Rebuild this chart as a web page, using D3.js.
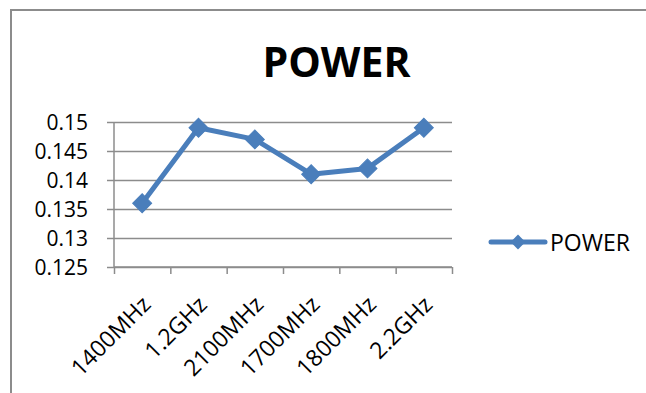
<!DOCTYPE html>
<html>
<head>
<meta charset="utf-8">
<script src="https://cdn.jsdelivr.net/npm/d3@7"></script>
<style>
  html, body { margin: 0; padding: 0; background: #fff; }
  svg { display: block; }
  text { font-family: "Open Sans", "DejaVu Sans", sans-serif; fill: #000; }
</style>
</head>
<body>
<svg id="chart" width="646" height="393"></svg>
<script>
// Series data
const categories = ["1400MHz", "1.2GHz", "2100MHz", "1700MHz", "1800MHz", "2.2GHz"];
const powerValues = [0.136, 0.149, 0.147, 0.141, 0.142, 0.149];
const yTicks = [0.125, 0.13, 0.135, 0.14, 0.145, 0.15];
const yTickLabels = ["0.125", "0.13", "0.135", "0.14", "0.145", "0.15"];
const seriesName = "POWER";
const chartTitle = "POWER";

const svg = d3.select("#chart");
const W = 646, H = 393;
const plot = { left: 114, right: 452, top: 122, bottom: 267 };
const lineColor = "#4a7ebb";
const gridColor = "#8c8c8c";

svg.append("rect").attr("width", W).attr("height", H).attr("fill", "#fff");

// Chart frame (only top and left edges fall inside the canvas)
svg.append("path")
  .attr("d", `M11,${H} V10 H${W}`)
  .attr("fill", "none")
  .attr("stroke", gridColor)
  .attr("stroke-width", 2);

// Title
svg.append("text")
  .attr("x", 336.5).attr("y", 77)
  .attr("text-anchor", "middle")
  .style("font-size", "41px")
  .style("font-weight", "bold")
  .text(chartTitle);

// Scales
const x = d3.scaleBand().domain(categories).range([plot.left, plot.right]).padding(0);
const xEdges = d3.scaleLinear().domain([0, categories.length]).range([plot.left, plot.right]);
const y = d3.scaleLinear().domain([yTicks[0], yTicks[yTicks.length - 1]]).range([plot.bottom, plot.top]);

// Horizontal gridlines
const grid = svg.append("g")
  .attr("transform", `translate(${plot.left},0)`)
  .call(d3.axisLeft(y).tickValues(yTicks).tickSize(-(plot.right - plot.left)).tickFormat(""));
grid.select(".domain").remove();
grid.selectAll(".tick line").attr("stroke", gridColor).attr("stroke-width", 1.5);

// Y axis with labels
const yAxis = svg.append("g")
  .attr("transform", `translate(${plot.left},0)`)
  .call(d3.axisLeft(y).tickValues(yTicks).tickSize(7).tickPadding(19)
    .tickFormat((d, i) => yTickLabels[i]));
yAxis.select(".domain").attr("stroke", gridColor).attr("stroke-width", 1.5)
  .attr("d", `M0,${plot.top}V${plot.bottom}`);
yAxis.selectAll(".tick line").attr("stroke", gridColor).attr("stroke-width", 1.5);
yAxis.selectAll(".tick text").style("font-size", "21px").attr("fill", "#000").attr("dy", "0.36em");

// X axis: tick marks between categories
const xAxis = svg.append("g")
  .attr("transform", `translate(0,${plot.bottom})`)
  .call(d3.axisBottom(xEdges).tickValues(d3.range(categories.length + 1)).tickSize(7).tickFormat(""));
xAxis.select(".domain").attr("stroke", gridColor).attr("stroke-width", 1.5)
  .attr("d", `M${plot.left},0H${plot.right}`);
xAxis.selectAll(".tick line").attr("stroke", gridColor).attr("stroke-width", 1.5);

// Rotated category labels
svg.append("g").selectAll("text")
  .data(categories)
  .join("text")
  .attr("transform", d => `translate(${x(d) + x.bandwidth() / 2 + 10},306) rotate(-45)`)
  .attr("text-anchor", "end")
  .style("font-size", "23px")
  .text(d => d);

// Series line
const pts = categories.map((c, i) => [x(c) + x.bandwidth() / 2, y(powerValues[i])]);
svg.append("path")
  .attr("d", d3.line()(pts))
  .attr("fill", "none")
  .attr("stroke", lineColor)
  .attr("stroke-width", 5)
  .attr("stroke-linejoin", "round");

// Diamond markers
const diamond = d3.symbol().type(d3.symbolSquare).size(180);
svg.append("g").selectAll("path")
  .data(pts)
  .join("path")
  .attr("d", diamond)
  .attr("transform", d => `translate(${d[0]},${d[1]}) rotate(45)`)
  .attr("fill", lineColor)
  .attr("stroke", lineColor)
  .attr("stroke-width", 1);

// Legend
const lg = svg.append("g");
lg.append("line")
  .attr("x1", 491).attr("x2", 545).attr("y1", 242).attr("y2", 242)
  .attr("stroke", lineColor).attr("stroke-width", 5).attr("stroke-linecap", "round");
lg.append("path")
  .attr("d", d3.symbol().type(d3.symbolSquare).size(110)())
  .attr("transform", "translate(518,242) rotate(45)")
  .attr("fill", lineColor);
lg.append("text")
  .attr("x", 550).attr("y", 251)
  .style("font-size", "23px")
  .text(seriesName);
</script>
</body>
</html>
